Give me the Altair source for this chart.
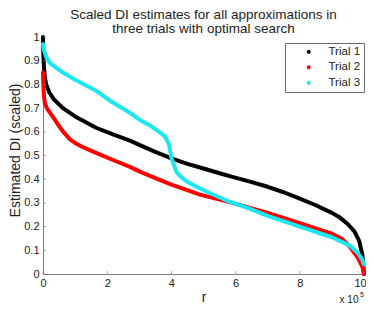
import altair as alt
import pandas as pd

title_lines = ["Scaled DI estimates for all approximations in", "three trials with optimal search"]
trial_names = ["Trial 1", "Trial 2", "Trial 3"]
trial_colors = ["#000000", "#ff0000", "#19e8ef"]

# r in units of 1e5
r1 = [0, 0.01, 0.03, 0.06, 0.1, 0.2, 0.35, 0.62, 1.0, 1.67, 2.2, 2.71, 3.0, 3.5, 4.0, 4.5, 5.0, 5.5,
      5.9, 6.45, 7.0, 7.5, 8.0, 8.5, 9.0, 9.25, 9.5, 9.7, 9.85, 9.95, 10]
v1 = [1.0, 0.93, 0.87, 0.83, 0.80, 0.765, 0.735, 0.70, 0.665, 0.616, 0.588, 0.563, 0.545, 0.515, 0.488,
      0.465, 0.445, 0.425, 0.41, 0.39, 0.368, 0.345, 0.318, 0.29, 0.258, 0.238, 0.21, 0.18, 0.14, 0.08, 0.0]

r2 = [0, 0.01, 0.03, 0.06, 0.12, 0.22, 0.3, 0.45, 0.6, 0.84, 1.0, 1.2, 1.67, 2.2, 2.71, 3.02, 3.33, 4.0,
      4.89, 5.9, 6.95, 8.0, 9.0, 9.3, 9.56, 9.8, 9.95, 10]
v2 = [0.85, 0.80, 0.75, 0.72, 0.70, 0.68, 0.665, 0.635, 0.605, 0.568, 0.553, 0.538, 0.51, 0.48, 0.452,
      0.432, 0.414, 0.377, 0.335, 0.30, 0.26, 0.215, 0.17, 0.15, 0.115, 0.07, 0.03, 0.0]

r3 = [0, 0.03, 0.1, 0.22, 0.62, 1.0, 1.67, 2.1, 2.71, 3.02, 3.33, 3.64, 3.8, 3.92, 4.0, 4.08, 4.16,
      4.3, 4.48, 4.8, 5.1, 5.72, 6.35, 7.0, 8.0, 9.0, 9.56, 9.8, 9.95, 10]
v3 = [0.97, 0.945, 0.915, 0.89, 0.85, 0.82, 0.772, 0.73, 0.68, 0.65, 0.627, 0.598, 0.58, 0.55, 0.49,
      0.46, 0.43, 0.41, 0.39, 0.367, 0.347, 0.31, 0.28, 0.245, 0.2, 0.155, 0.12, 0.09, 0.06, 0.04]

x_ticks = [0, 2, 4, 6, 8, 10]
y_ticks = [0, 0.1, 0.2, 0.3, 0.4, 0.5, 0.6, 0.7, 0.8, 0.9, 1.0]

rows = []
for name, rs, vs in zip(trial_names, [r1, r2, r3], [v1, v2, v3]):
    for i, (r, v) in enumerate(zip(rs, vs)):
        rows.append({"trial": name, "r": r, "di": v, "order": i})
df = pd.DataFrame(rows)

FONT = "Liberation Sans"
W, H = 321, 237
AXIS_GRAY = "#7f7f7f"
TXT = "#222222"

xscale = alt.Scale(domain=[0, 10], nice=False, zero=False)
yscale = alt.Scale(domain=[0, 1], nice=False)

x_axis = alt.Axis(values=x_ticks, format="d", title="r", ticks=False, labelOverlap=False,
                  labelFlush=False, labelPadding=3, labelFontSize=11, titleFontSize=14,
                  labelOffset={"condition": {"test": "datum.value == 10", "value": -4}, "value": 0},
                  titleY=27.7, titleBaseline="alphabetic")
y_axis = alt.Axis(values=y_ticks, format=".1~f", title="Estimated DI (scaled)", ticks=False,
                  labelOverlap=False, labelFlush=False, labelPadding=4, labelFontSize=11,
                  titleFontSize=14, titleX=-28, titleY=113, titleAngle=270,
                  titleAlign="center", titleBaseline="middle")

X = lambda f: alt.X(f, scale=xscale, axis=x_axis, title="r")
Y = lambda f: alt.Y(f, scale=yscale, axis=y_axis, title="Estimated DI (scaled)")

lines = alt.Chart(df).mark_line(strokeWidth=4, strokeJoin="round", strokeCap="round").encode(
    x=X("r:Q"),
    y=Y("di:Q"),
    color=alt.Color("trial:N", scale=alt.Scale(domain=trial_names, range=trial_colors),
                    legend=alt.Legend(orient="none", legendX=242, legendY=6, title=None,
                                      symbolType="circle", symbolSize=3, symbolStrokeWidth=2.2,
                                      padding=3, symbolOffset=15, labelOffset=14, labelFontSize=11.5,
                                      labelFont=FONT, labelColor=TXT, strokeColor="#666666",
                                      fillColor="white", rowPadding=2.5)),
    order="order:Q",
)

xt = alt.Chart(pd.DataFrame({"r": x_ticks})).mark_tick(
    orient="vertical", size=3, thickness=1, color=AXIS_GRAY).encode(
    x=X("r:Q"), y=alt.value(H - 1.5))

yt = alt.Chart(pd.DataFrame({"di": y_ticks})).mark_tick(
    orient="horizontal", size=3, thickness=1, color=AXIS_GRAY).encode(
    y=Y("di:Q"), x=alt.value(1.5))

anno = pd.DataFrame({"r": [10], "di": [0]})
mult = alt.Chart(anno).mark_text(text="x 10", align="right", baseline="alphabetic", dx=-5.5, dy=29,
                                 fontSize=10, font=FONT, color=TXT).encode(
    x=X("r:Q"), y=Y("di:Q"))
expo = alt.Chart(anno).mark_text(text="5", align="right", baseline="alphabetic", dx=0, dy=23,
                                 fontSize=7, font=FONT, color=TXT).encode(
    x=X("r:Q"), y=Y("di:Q"))

title = alt.Chart(anno).mark_text(text=title_lines, align="center", baseline="alphabetic",
                                  fontSize=13.5, lineHeight=14, font=FONT, color=TXT).encode(
    x=alt.value(W / 2), y=alt.value(-18.5))

chart = alt.layer(lines, xt, yt, mult, expo, title).properties(
    width=W, height=H,
    autosize=alt.AutoSizeParams(type="none"),
    padding={"left": 35, "top": 29, "right": 2, "bottom": 30},
).configure_view(stroke=None).configure_axis(
    domainColor=AXIS_GRAY, domainWidth=1, grid=False, labelFont=FONT, titleFont=FONT,
    labelColor=TXT, titleColor=TXT, titleFontWeight="normal",
)

chart.save("out.html", embed_options={"renderer": "svg", "actions": False})
